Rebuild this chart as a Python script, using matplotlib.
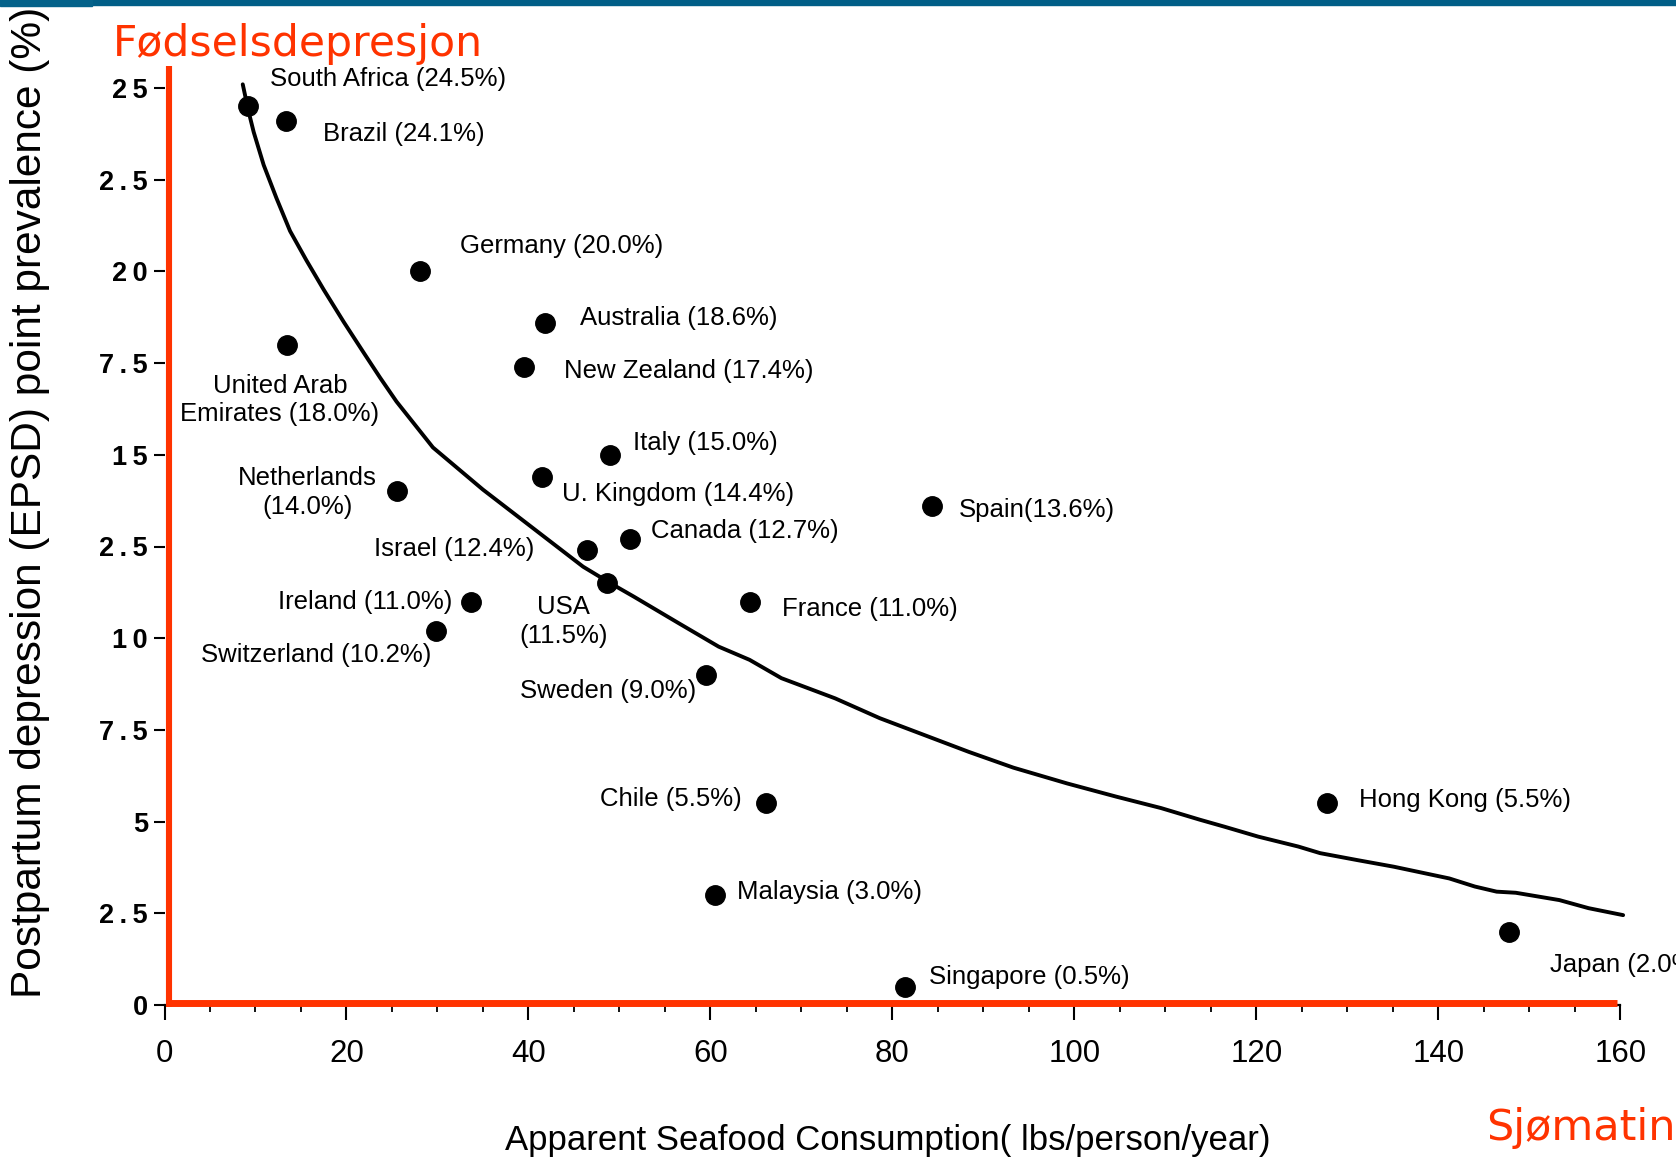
import matplotlib
matplotlib.use("Agg")
import matplotlib.pyplot as plt
from matplotlib.lines import Line2D
from matplotlib.patches import Rectangle

# ---- data -------------------------------------------------------------
countries = ["South Africa", "Brazil", "Germany", "Australia", "New Zealand",
             "United Arab\nEmirates", "Italy", "U. Kingdom", "Netherlands",
             "Spain", "Canada", "Israel", "USA", "Ireland", "France",
             "Switzerland", "Sweden", "Chile", "Hong Kong", "Malaysia",
             "Singapore", "Japan"]
seafood = [9.2, 13.3, 28.1, 41.8, 39.5, 13.5, 49.0, 41.5, 25.5, 84.4, 51.2,
           46.4, 48.6, 33.7, 64.4, 29.8, 59.5, 66.1, 127.8, 60.5, 81.4, 147.8]
prevalence = [24.5, 24.1, 20.0, 18.6, 17.4, 18.0, 15.0, 14.4, 14.0, 13.6, 12.7,
              12.4, 11.5, 11.0, 11.0, 10.2, 9.0, 5.5, 5.5, 3.0, 0.5, 2.0]

# fitted trend line, sampled along x
curve_x = [8.6, 9.2, 9.8, 10.9, 12.3, 13.8, 15.6, 17.5, 19.7, 21.9, 23.7,
           25.5, 29.5, 35.0, 40.5, 46.0, 49.0, 51.6, 56.5, 60.9, 64.3, 67.8,
           73.7, 78.6, 83.5, 88.4, 93.3, 99.2, 104.6, 109.5, 113.8, 116.5,
           120.2, 124.6, 127.0, 131.1, 135.1, 141.2, 144.0, 146.4, 148.5,
           153.3, 156.5, 160.3]
curve_y = [25.1, 24.4, 23.8, 22.9, 22.0, 21.1, 20.3, 19.5, 18.62, 17.78, 17.1,
           16.45, 15.2, 14.05, 13.0, 11.95, 11.5, 11.13, 10.41, 9.77, 9.41, 8.91,
           8.36, 7.82, 7.36, 6.9, 6.47, 6.04, 5.68, 5.37, 5.05, 4.86, 4.59,
           4.32, 4.14, 3.95, 3.77, 3.45, 3.23, 3.09, 3.06, 2.86, 2.64, 2.45]

y_ticks = [0, 2.5, 5, 7.5, 10, 12.5, 15, 17.5, 20, 22.5, 25]
y_tick_labels = ["0", "2.5", "5", "7.5", "10", "2.5", "15", "7.5", "20", "2.5", "25"]
x_ticks = [0, 20, 40, 60, 80, 100, 120, 140, 160]
x_tick_labels = ["0", "20", "40", "60", "80", "100", "120", "140", "160"]

# label placement: (dx, dy) offset in points from each dot, alignment
label_layout = {
    "South Africa": (16, 19.6, "left"),
    "Brazil": (26.9, -9.1, "left"),
    "Germany": (28.4, 18.4, "left"),
    "Australia": (25.6, 3.7, "left"),
    "New Zealand": (29.1, -3.0, "left"),
    "United Arab\nEmirates": (-5.3, -39.7, "center"),
    "Italy": (16.1, 8.8, "left"),
    "U. Kingdom": (14.4, -12.4, "left"),
    "Netherlands": (-63.9, -1.0, "center"),
    "Spain": (18.9, -2.7, "left"),
    "Canada": (14.8, 5.6, "left"),
    "Israel": (-37.6, 1.2, "right"),
    "USA": (-31.3, -27.4, "center"),
    "Ireland": (-13.8, -0.4, "right"),
    "France": (23.0, -5.7, "left"),
    "Switzerland": (-2.8, -17.6, "right"),
    "Sweden": (-7.3, -11.4, "right"),
    "Chile": (-17.4, 3.3, "right"),
    "Hong Kong": (22.4, 2.5, "left"),
    "Malaysia": (16.1, 2.4, "left"),
    "Singapore": (17.1, 6.8, "left"),
    "Japan": (29.2, -24.0, "left"),
}
two_line = {"Netherlands", "USA"}
no_space = {"Spain"}

SANS = "Liberation Sans"
RED = "#FF3300"
W, H = 1676, 1158
fig = plt.figure(figsize=(W / 100, H / 100), dpi=100)


def fx(px):
    return px / W


def fy(py):
    return 1 - py / H


ax = fig.add_axes([fx(164.5), fy(1005), fx(1620.4) - fx(164.5), fy(88) - fy(1005)])
ax.set_xlim(0, 160)
ax.set_ylim(0, 25)
for s in ("top", "right", "left"):
    ax.spines[s].set_visible(False)
ax.spines["bottom"].set_linewidth(1.6)

ax.set_yticks(y_ticks)
ax.set_yticklabels(["\u2009".join(t) for t in y_tick_labels],
                   fontfamily=SANS, fontsize=19.5, fontweight="bold")
ax.tick_params(axis="y", length=8, width=1.5, pad=4, direction="out")
ax.set_xticks(x_ticks)
ax.set_xticklabels(x_tick_labels, fontfamily=SANS, fontsize=22.5)
ax.set_xticks([v for v in range(0, 161, 5) if v % 20], minor=True)
ax.tick_params(axis="x", which="major", length=10.5, width=1.5, pad=14)
ax.tick_params(axis="x", which="minor", length=5, width=1.3)

# trend line and countries
ax.plot(curve_x, curve_y, color="black", lw=2.8, clip_on=False, zorder=3,
        solid_joinstyle="round", solid_capstyle="round")
ax.plot(seafood, prevalence, "o", color="black", ms=14, clip_on=False, zorder=4)

for name, x, y in zip(countries, seafood, prevalence):
    dx, dy, ha = label_layout[name]
    if name in two_line:
        txt = f"{name}\n({y:.1f}%)"
    elif name in no_space:
        txt = f"{name}({y:.1f}%)"
    else:
        txt = f"{name} ({y:.1f}%)"
    ax.annotate(txt, (x, y), xytext=(dx, dy), textcoords="offset points",
                ha=ha, va="center", multialignment="center",
                fontfamily=SANS, fontsize=18.5, linespacing=1.25,
                annotation_clip=False, zorder=5)

# red highlight axes
ax.add_line(Line2D([0.003, 0.003], [-0.002, 1.024], transform=ax.transAxes,
                   color=RED, lw=4.4, clip_on=False, zorder=6,
                   solid_capstyle="butt"))
ax.add_line(Line2D([0.001, 0.9977], [0.0025, 0.0025], transform=ax.transAxes,
                   color=RED, lw=5, clip_on=False, zorder=6,
                   solid_capstyle="butt"))

# axis titles
fig.text(fx(30), fy(502), "Postpartum depression (EPSD) point prevalence (%)",
         rotation=90, ha="center", va="center", fontfamily=SANS, fontsize=30.5)
fig.text(fx(888), fy(1150), "Apparent Seafood Consumption( lbs/person/year)",
         ha="center", va="baseline", fontfamily=SANS, fontsize=25)
fig.text(fx(113), fy(56), "Fødselsdepresjon", color=RED, ha="left",
         va="baseline", fontfamily="DejaVu Sans", fontsize=30.6)
fig.text(fx(1486), fy(1140), "Sjømatin", color=RED, ha="left",
         va="baseline", fontfamily="DejaVu Sans", fontsize=31)

# header bar
fig.patches.append(Rectangle((0, fy(5)), 1, fy(0) - fy(5), transform=fig.transFigure,
                             color="#005E87", zorder=10))
fig.patches.append(Rectangle((0, fy(6)), fx(92), fy(0) - fy(6), transform=fig.transFigure,
                             color="#04628A", zorder=10))

fig.savefig("out.png", dpi=100, facecolor="white")
